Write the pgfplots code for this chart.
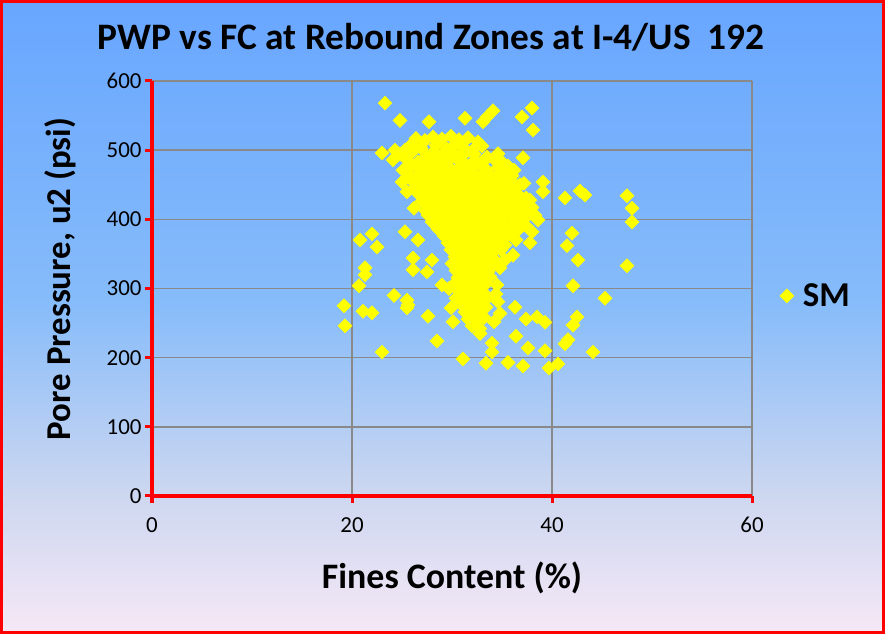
\documentclass[border=0pt]{standalone}
\usepackage{pgfplots}
\pgfplotsset{compat=1.18}
\usepackage{pgfplotstable}
\usepackage{fontspec}
\setmainfont{Carlito}

\definecolor{bgtop}{RGB}{104,166,255}
\definecolor{bgmid}{RGB}{135,188,250}
\definecolor{bglow}{RGB}{205,215,240}
\definecolor{bgbot}{RGB}{246,232,246}
\definecolor{gridgray}{RGB}{137,137,137}
\definecolor{smyellow}{RGB}{255,255,0}

\pgfdeclareverticalshading{chartbg}{100bp}{color(0bp)=(bgbot); color(25bp)=(bgbot); color(36bp)=(bglow); color(51bp)=(bgmid); color(75bp)=(bgtop); color(100bp)=(bgtop)}

\newcommand{\tickfont}{\fontsize{23}{23}\selectfont}

% SM points, fines content (%) vs u2 (psi)
\pgfplotstableread{
fc u2
23.3 568
24.8 543
27.7 541
31.3 546
33.1 541
33.5 548
34.1 557
37.0 548
38.0 561
38.1 529
37.1 489
39.1 454
37.2 452
41.3 431
42.8 441
43.3 435
47.5 434
48.0 416
48.0 396
42.0 380
41.5 362
42.6 341
47.5 333
42.1 304
45.3 286
42.5 259
42.1 247
41.6 226
41.3 220
44.1 208
40.6 191
39.7 185
39.3 210
37.6 214
37.1 188
35.6 193
33.4 192
31.1 198
28.5 224
27.6 260
36.3 273
36.4 231
39.3 251
38.5 259
37.4 256
34.0 221
34.0 208
32.8 235
34.8 264
25.5 272
25.5 283
26.1 327
27.5 324
26.1 344
28.0 341
29.0 305
25.3 382
26.6 370
37.8 366
38.0 382
20.8 370
22.0 379
22.5 360
21.3 330
21.3 320
20.7 304
19.2 275
19.3 246
21.1 267
22.0 265
23.0 208
24.2 290
25.6 276
23.0 496
24.3 500
25.3 500
24.1 486
25.1 471
25.0 454
25.5 440
38.6 399
37.5 421
39.1 440
36.1 435
36.1 348
34.8 330
36.8 450
37.8 428
38.3 406
37.3 392
36.4 370
35.3 341
33.6 324
34.5 305
26.4 517
27.3 514
28.1 519
29.0 516
29.9 520
30.7 515
31.6 518
32.6 512
25.8 506
26.9 503
28.4 507
29.5 502
30.3 508
31.1 504
32.1 500
33.0 506
24.8 494
26.0 497
27.5 492
28.2 498
29.1 493
29.8 496
30.6 491
31.4 497
32.2 494
33.5 490
34.6 495
25.5 486
26.6 483
27.2 488
28.0 482
28.9 487
29.6 484
30.4 489
31.2 481
32.3 486
33.1 483
34.2 487
35.1 481
25.8 476
26.8 472
27.6 478
28.4 474
29.2 477
30.0 471
30.8 476
31.6 473
32.4 478
33.4 472
34.6 475
35.6 477
36.2 471
25.6 466
26.4 462
27.1 468
27.9 463
28.7 467
29.5 461
30.3 466
31.1 463
31.9 469
32.8 462
33.7 466
34.4 461
35.2 467
36.0 463
26.0 456
26.9 452
27.7 458
28.5 453
29.3 457
30.1 451
30.9 456
31.7 453
32.5 458
33.3 452
34.1 457
35.0 453
35.9 456
26.3 446
27.2 442
28.0 448
28.8 443
29.6 447
30.4 441
31.2 446
32.0 443
32.8 448
33.6 442
34.4 447
35.4 443
36.4 446
26.7 436
27.5 432
28.3 438
29.1 433
29.9 437
30.7 431
31.5 436
32.3 433
33.1 438
33.9 432
34.8 437
35.6 433
36.6 436
37.4 431
27.0 426
27.8 422
28.6 428
29.4 423
30.2 427
31.0 421
31.8 426
32.6 423
33.4 428
34.2 422
35.0 427
35.9 423
36.8 426
26.2 416
27.4 412
28.2 418
29.0 413
29.8 417
30.6 411
31.4 416
32.2 413
33.0 418
33.8 412
34.6 417
35.5 413
36.3 416
37.2 412
38.0 417
27.6 406
28.5 402
29.3 408
30.1 403
30.9 407
31.7 401
32.5 406
33.3 403
34.1 408
34.9 402
35.8 407
36.6 403
37.6 406
28.0 396
28.9 392
29.7 398
30.5 393
31.3 397
32.1 391
32.9 396
33.7 393
34.5 398
35.3 392
36.1 397
36.9 393
28.6 386
29.5 382
30.3 388
31.1 383
31.9 387
32.7 381
33.5 386
34.3 383
35.1 388
35.9 382
36.7 386
29.2 376
30.0 372
30.8 378
31.6 373
32.4 377
33.2 371
34.0 376
34.8 373
35.6 378
29.6 366
30.5 362
31.3 368
32.1 363
32.9 367
33.7 361
34.5 366
35.3 363
29.9 356
30.8 352
31.6 358
32.4 353
33.2 357
34.0 351
34.9 356
30.3 346
31.1 342
31.9 348
32.7 343
33.5 347
34.3 341
30.0 336
30.8 332
31.6 338
32.4 333
33.2 337
34.0 331
30.4 326
31.2 322
32.0 328
32.8 323
33.6 327
30.6 316
31.4 312
32.2 318
33.0 313
33.8 317
30.2 306
31.0 302
31.8 308
32.6 303
33.4 307
30.7 296
31.5 292
32.3 298
33.1 293
30.4 286
31.2 282
32.0 288
32.8 283
33.6 287
31.0 276
31.8 272
32.6 278
33.4 273
31.3 266
32.1 262
32.9 268
31.6 256
32.4 252
33.2 258
32.0 246
32.8 242
29.7 300
34.4 292
29.9 272
34.6 281
30.1 252
34.2 252
}\smdata

\begin{document}
\begin{tikzpicture}
\shade[shading=chartbg] (0bp,0bp) rectangle (885bp,634bp);
\begin{axis}[
  at={(152bp,138bp)}, anchor=south west,
  scale only axis, width=600bp, height=415bp,
  xmin=0, xmax=60, ymin=0, ymax=600,
  xtick={0,20,40,60}, ytick={0,100,...,600},
  axis x line=bottom, axis y line=left,
  axis line style={red, line width=4bp, -},
  grid=major, grid style={gridgray, line width=1.6bp},
  tick style={red, line width=3bp},
  tick align=outside, major tick length=7bp,
  /pgf/number format/assume math mode=true,
  xticklabel style={font=\tickfont, yshift=-11bp},
  yticklabel style={font=\tickfont},
  title={PWP vs FC at Rebound Zones at I-4/US\ \ 192},
  title style={at={(axis description cs:0.465,1.092)}, anchor=center,
    font=\bfseries\fontsize{37.5}{40}\selectfont},
  xlabel={Fines Content (\%)},
  xlabel style={at={(axis description cs:0.5,-0.198)}, anchor=center,
    font=\bfseries\fontsize{36}{40}\selectfont},
  ylabel={Pore Pressure, u2 (psi)},
  ylabel style={at={(axis description cs:-0.153,0.523)}, anchor=center,
    font=\bfseries\fontsize{35}{40}\selectfont},
  legend style={at={(axis description cs:1.046,0.482)}, anchor=west,
    draw=none, fill=none, inner sep=0pt,
    nodes={inner xsep=9bp},
    font=\bfseries\fontsize{35}{40}\selectfont},
]
\addplot[only marks, mark=square*, mark size=5bp,
  mark options={rotate=45, fill=smyellow, draw=smyellow}]
  table[x=fc, y=u2] {\smdata};
\addlegendentry{SM}
\end{axis}
\draw[red, line width=3bp] (1.5bp,1.5bp) rectangle (883.5bp,632.5bp);
\end{tikzpicture}
\end{document}
